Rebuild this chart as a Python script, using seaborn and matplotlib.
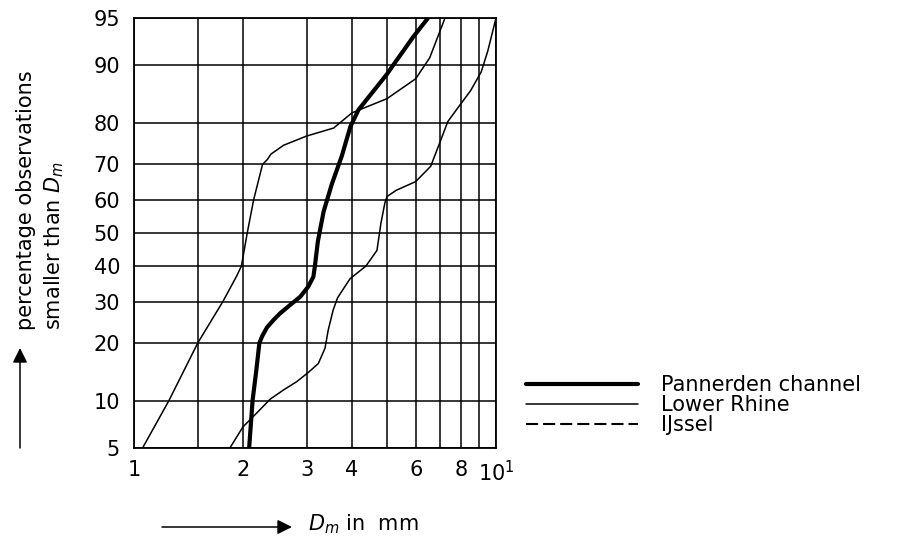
import numpy as np
import pandas as pd
import matplotlib
matplotlib.use("Agg")
import matplotlib.pyplot as plt
from matplotlib.lines import Line2D
from matplotlib.ticker import FixedLocator, NullFormatter
from statistics import NormalDist
import seaborn as sns

# ---------------- data ----------------
pannerden_d = [2.08, 2.126, 2.18, 2.22, 2.26, 2.33, 2.43, 2.53, 2.70, 2.88, 3.03,
               3.13, 3.16, 3.22, 3.34, 3.52, 3.75, 3.96, 4.17, 5.0, 5.21, 5.9, 6.49]
pannerden_p = [5, 10, 15, 20, 21.5, 23.5, 25.3, 26.9, 29.1, 31.3, 34.1,
               36.9, 40, 47.4, 56.5, 64.6, 72.2, 79.2, 82.7, 88.8, 90.1, 93.3, 95]

lower_rhine_d = [1.056, 1.249, 1.5, 1.76, 1.917, 1.98, 2.055, 2.14, 2.265, 2.34,
                 2.39, 2.59, 3.0, 3.56, 4.0, 5.0, 6.0, 6.56, 6.9, 7.23]
lower_rhine_p = [5, 10, 20, 30, 36.9, 40, 50, 60, 70, 71.4,
                 72.7, 74.9, 77.1, 78.9, 82.1, 84.8, 88.1, 91.0, 93.3, 95]

ijssel_d = [1.84, 2.0, 2.18, 2.38, 2.59, 2.82, 3.03, 3.23, 3.37, 3.44, 3.55, 3.65,
            3.95, 4.37, 4.69, 4.81, 4.93, 5.0, 5.3, 6.0, 6.6, 6.95, 7.36, 7.81,
            8.51, 9.1, 9.49, 10.0]
ijssel_p = [5, 6.9, 8.4, 10.2, 11.5, 12.8, 14.3, 15.9, 18.9, 22.9, 27.8, 31,
            36.3, 40, 44.7, 53, 59, 61, 62.8, 65.3, 69.5, 74.9, 80.3, 82.9,
            86.2, 89.1, 91.8, 95]

x_major = [1, 2, 3, 4, 6, 8, 10]
x_major_labels = ["1", "2", "3", "4", "6", "8", "10$^1$"]
x_minor = [1.5, 5, 7, 9]
y_ticks = [5, 10, 20, 30, 40, 50, 60, 70, 80, 90, 95]
legend_labels = ["Pannerden channel", "Lower Rhine", "IJssel"]

# ---------------- style ----------------
sns.set_style("white")
plt.rcParams["font.family"] = ["DejaVu Sans"]
plt.rcParams["mathtext.fontset"] = "dejavusans"
plt.rcParams["text.color"] = "black"
plt.rcParams["legend.labelcolor"] = "black"

_nd = NormalDist()
_ppf = np.vectorize(_nd.inv_cdf, otypes=[float])
_cdf = np.vectorize(_nd.cdf, otypes=[float])


def prob_fwd(p):
    p = np.clip(np.asarray(p, dtype=float), 1e-4, 100 - 1e-4)
    return _ppf(p / 100.0)


def prob_inv(z):
    return _cdf(np.asarray(z, dtype=float)) * 100.0


W, H = 912, 537
fig = plt.figure(figsize=(W / 100, H / 100), dpi=100)
ax = fig.add_axes([134 / W, 1 - 448 / H, (496 - 134) / W, (448 - 18) / H])

df_pc = pd.DataFrame({"D": pannerden_d, "P": pannerden_p})
df_lr = pd.DataFrame({"D": lower_rhine_d, "P": lower_rhine_p})
df_ij = pd.DataFrame({"D": ijssel_d, "P": ijssel_p})

sns.lineplot(data=df_lr, x="D", y="P", sort=False, estimator=None,
             color="black", linewidth=1.1, ax=ax, legend=False, zorder=3)
sns.lineplot(data=df_ij, x="D", y="P", sort=False, estimator=None,
             color="black", linewidth=1.1, ax=ax, legend=False, zorder=3)
sns.lineplot(data=df_pc, x="D", y="P", sort=False, estimator=None,
             color="black", linewidth=3.0, ax=ax, legend=False, zorder=4)
for ln in ax.lines:
    ln.set_solid_joinstyle("round")
    ln.set_solid_capstyle("round")

ax.set_xscale("log")
ax.set_yscale("function", functions=(prob_fwd, prob_inv))
ax.set_xlim(1, 10)
ax.set_ylim(5, 95)

ax.xaxis.set_major_locator(FixedLocator(x_major))
ax.set_xticklabels(x_major_labels)
ax.xaxis.set_minor_locator(FixedLocator(x_minor))
ax.xaxis.set_minor_formatter(NullFormatter())
ax.yaxis.set_major_locator(FixedLocator(y_ticks))
ax.set_yticklabels([str(v) for v in y_ticks])
ax.yaxis.set_minor_locator(FixedLocator([]))

ax.grid(True, which="both", color="black", linewidth=1.1)
ax.set_axisbelow(True)
for s in ax.spines.values():
    s.set_color("black")
    s.set_linewidth(1.3)

ax.tick_params(axis="both", which="both", direction="out", length=6.5,
               width=1.1, color="black", labelsize=15, labelcolor="black")
ax.tick_params(axis="x", which="both", pad=2)
ax.tick_params(axis="y", which="both", pad=3.5)
ax.set_xlabel("")
ax.set_ylabel("")

# y label (two lines, rotated) and arrow
fig.text(41 / W, 1 - 330 / H, "percentage observations\nsmaller than $D_m$",
         rotation=90, ha="center", va="bottom", multialignment="left",
         fontsize=15, linespacing=1.35, color="black")
ax.annotate("", xy=(20, H - 348), xytext=(20, H - 448),
            xycoords="figure pixels", textcoords="figure pixels",
            arrowprops=dict(arrowstyle="-|>", color="black", lw=1.1,
                            mutation_scale=22, shrinkA=0, shrinkB=0))

# x label and arrow
ax.annotate("", xy=(292, H - 527), xytext=(162, H - 527),
            xycoords="figure pixels", textcoords="figure pixels",
            arrowprops=dict(arrowstyle="-|>", color="black", lw=1.1,
                            mutation_scale=22, shrinkA=0, shrinkB=0))
fig.text(308 / W, 1 - 524 / H, "$D_m$ in  mm", ha="left", va="center",
         fontsize=15, color="black")

# legend
handles = [Line2D([], [], color="black", lw=3.0),
           Line2D([], [], color="black", lw=1.1),
           Line2D([], [], color="black", lw=1.5, ls=(0, (5.8, 2.4)))]
fig.legend(handles, legend_labels, loc="upper left",
           bbox_to_anchor=(526 / W, 1 - 375 / H), frameon=False,
           fontsize=15, handlelength=5.4, handletextpad=1.1,
           labelspacing=0.0, borderpad=0, borderaxespad=0,
           labelcolor="black")

fig.savefig("out.png", dpi=100)
